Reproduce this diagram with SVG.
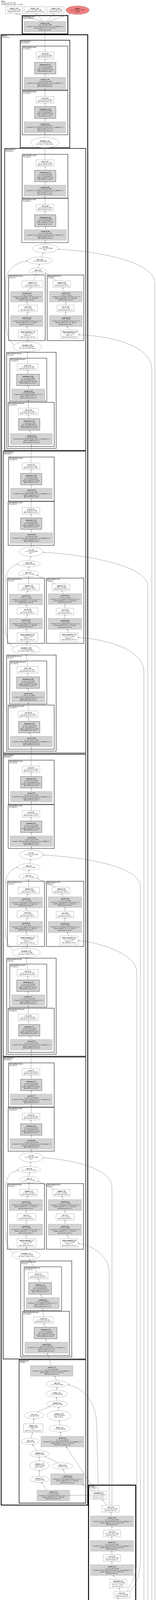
<svg xmlns="http://www.w3.org/2000/svg" width="400" height="4824" viewBox="0 0 400 4824">
<defs>
<marker id="a" viewBox="0 0 10 10" refX="10" refY="5" markerWidth="2.4" markerHeight="2.4" markerUnits="userSpaceOnUse" orient="auto"><path d="M0,0L10,5L0,10z" fill="#333"/></marker>
<style>
text{font-family:"Liberation Serif","DejaVu Serif",serif;font-size:3.4px;text-anchor:middle;fill:#000}
.n{font-weight:bold}
.w{fill:#fff;stroke:#888;stroke-width:.6}
.g{fill:#d3d3d3;stroke:#9a9a9a;stroke-width:.6}
.bn{fill:#d3d3d3;stroke:#a0a0a0;stroke-width:1.8}
.e{fill:#fff;stroke:#888;stroke-width:.6}
.in{fill:#98fb98;stroke:#888;stroke-width:.6}
.out{fill:#f08080;stroke:#888;stroke-width:.6}
.k1{fill:none;stroke:#000;stroke-width:2}
.k2{fill:none;stroke:#111;stroke-width:1.5}
.k3{fill:none;stroke:#222;stroke-width:1.1}
.k4{fill:none;stroke:#555;stroke-width:1.3}
.cl{text-anchor:start;font-size:3.2px}
#edges path{fill:none;stroke:#555;stroke-width:.55;marker-end:url(#a)}
</style>
</defs>
<rect width="400" height="4824" fill="#fff"/>
<g id="title"><text class="cl" x="3" y="4.5"><tspan class="n">SEUnet</tspan><tspan x="3" dy="4">164 tensors total (299.7 MB)</tspan><tspan x="3" dy="4">27597146 params (all trainable, 105.3 MB)</tspan></text></g>

<g id="clusters">
<rect class="k1" x="57" y="40" width="117" height="47"/><text class="cl" x="59" y="44.2"><tspan class="n">@segmentation_head</tspan><tspan x="59" dy="3.8">(SegmentationHead)</tspan></text>
<rect class="k1" x="3" y="89" width="222" height="3764"/><text class="cl" x="5" y="93.2"><tspan class="n">@decoder</tspan><tspan x="5" dy="3.8">(UNetDecoder)</tspan></text>
<rect class="k2" x="52" y="103" width="127" height="275"/><text class="cl" x="54" y="107.2"><tspan class="n">@decoder.blocks.4</tspan><tspan x="54" dy="3.8">(DecoderBlock)</tspan></text>
<rect class="k3" x="57" y="118" width="117" height="112"/><text class="cl" x="59" y="122.2"><tspan class="n">@decoder.blocks.4.conv2</tspan><tspan x="59" dy="3.8">(Conv2dReLU)</tspan></text>
<rect class="k3" x="57" y="232" width="117" height="113"/><text class="cl" x="59" y="236.2"><tspan class="n">@decoder.blocks.4.conv1</tspan><tspan x="59" dy="3.8">(Conv2dReLU)</tspan></text>

<rect class="k2" x="12" y="380" width="208" height="773"/><text class="cl" x="14" y="384.2"><tspan class="n">@decoder.blocks.3</tspan><tspan x="14" dy="3.8">(MDAMBlock)</tspan></text>
<rect class="k3" x="57" y="395" width="117" height="112"/><text class="cl" x="59" y="399.2"><tspan class="n">@decoder.blocks.3.conv2</tspan><tspan x="59" dy="3.8">(Conv2dReLU)</tspan></text>
<rect class="k4" x="56" y="508" width="119" height="113"/><text class="cl" x="58" y="512.2"><tspan class="n">@decoder.blocks.3.conv1</tspan><tspan x="58" dy="3.8">(Conv2dReLU)</tspan></text>
<rect class="k3" x="22" y="704" width="94" height="168"/><text class="cl" x="24" y="708.2"><tspan class="n">@decoder.blocks.3.SE_hi</tspan><tspan x="24" dy="3.8">(Sequential)</tspan></text>
<rect class="k3" x="121" y="704" width="94" height="168"/><text class="cl" x="123" y="708.2"><tspan class="n">@decoder.blocks.3.SE_li</tspan><tspan x="123" dy="3.8">(Sequential)</tspan></text>
<rect class="k3" x="17" y="902" width="127" height="246"/><text class="cl" x="19" y="906.2"><tspan class="n">@decoder.blocks.3.hl_conv</tspan><tspan x="19" dy="3.8">(Sequential)</tspan></text>
<rect class="k4" x="25" y="917" width="95" height="110"/><text class="cl" x="27" y="921.2"><tspan class="n">@decoder.blocks.3.hl_conv.1</tspan><tspan x="27" dy="3.8">(Conv2dReLU)</tspan></text>
<rect class="k3" x="21" y="1030" width="118" height="113"/><text class="cl" x="23" y="1034.2"><tspan class="n">@decoder.blocks.3.hl_conv.0</tspan><tspan x="23" dy="3.8">(Conv2dReLU)</tspan></text>

<rect class="k2" x="8" y="1155" width="212" height="773"/><text class="cl" x="10" y="1159.2"><tspan class="n">@decoder.blocks.2</tspan><tspan x="10" dy="3.8">(MDAMBlock)</tspan></text>
<rect class="k3" x="22" y="1170" width="117" height="113"/><text class="cl" x="24" y="1174.2"><tspan class="n">@decoder.blocks.2.conv2</tspan><tspan x="24" dy="3.8">(Conv2dReLU)</tspan></text>
<rect class="k3" x="21" y="1284" width="118" height="112"/><text class="cl" x="23" y="1288.2"><tspan class="n">@decoder.blocks.2.conv1</tspan><tspan x="23" dy="3.8">(Conv2dReLU)</tspan></text>
<rect class="k3" x="19" y="1480" width="95" height="167"/><text class="cl" x="21" y="1484.2"><tspan class="n">@decoder.blocks.2.SE_hi</tspan><tspan x="21" dy="3.8">(Sequential)</tspan></text>
<rect class="k3" x="119" y="1480" width="96" height="167"/><text class="cl" x="121" y="1484.2"><tspan class="n">@decoder.blocks.2.SE_li</tspan><tspan x="121" dy="3.8">(Sequential)</tspan></text>
<rect class="k3" x="17" y="1677" width="127" height="246"/><text class="cl" x="19" y="1681.2"><tspan class="n">@decoder.blocks.2.hl_conv</tspan><tspan x="19" dy="3.8">(Sequential)</tspan></text>
<rect class="k4" x="25" y="1692" width="95" height="110"/><text class="cl" x="27" y="1696.2"><tspan class="n">@decoder.blocks.2.hl_conv.1</tspan><tspan x="27" dy="3.8">(Conv2dReLU)</tspan></text>
<rect class="k3" x="21" y="1805" width="118" height="113"/><text class="cl" x="23" y="1809.2"><tspan class="n">@decoder.blocks.2.hl_conv.0</tspan><tspan x="23" dy="3.8">(Conv2dReLU)</tspan></text>

<rect class="k2" x="8" y="1931" width="212" height="773"/><text class="cl" x="10" y="1935.2"><tspan class="n">@decoder.blocks.1</tspan><tspan x="10" dy="3.8">(MDAMBlock)</tspan></text>
<rect class="k3" x="22" y="1946" width="117" height="113"/><text class="cl" x="24" y="1950.2"><tspan class="n">@decoder.blocks.1.conv2</tspan><tspan x="24" dy="3.8">(Conv2dReLU)</tspan></text>
<rect class="k3" x="21" y="2060" width="118" height="112"/><text class="cl" x="23" y="2064.2"><tspan class="n">@decoder.blocks.1.conv1</tspan><tspan x="23" dy="3.8">(Conv2dReLU)</tspan></text>
<rect class="k3" x="19" y="2256" width="95" height="167"/><text class="cl" x="21" y="2260.2"><tspan class="n">@decoder.blocks.1.SE_hi</tspan><tspan x="21" dy="3.8">(Sequential)</tspan></text>
<rect class="k3" x="119" y="2256" width="96" height="167"/><text class="cl" x="121" y="2260.2"><tspan class="n">@decoder.blocks.1.SE_li</tspan><tspan x="121" dy="3.8">(Sequential)</tspan></text>
<rect class="k3" x="17" y="2453" width="127" height="246"/><text class="cl" x="19" y="2457.2"><tspan class="n">@decoder.blocks.1.hl_conv</tspan><tspan x="19" dy="3.8">(Sequential)</tspan></text>
<rect class="k4" x="25" y="2468" width="95" height="110"/><text class="cl" x="27" y="2472.2"><tspan class="n">@decoder.blocks.1.hl_conv.1</tspan><tspan x="27" dy="3.8">(Conv2dReLU)</tspan></text>
<rect class="k3" x="21" y="2581" width="118" height="113"/><text class="cl" x="23" y="2585.2"><tspan class="n">@decoder.blocks.1.hl_conv.0</tspan><tspan x="23" dy="3.8">(Conv2dReLU)</tspan></text>

<rect class="k2" x="8" y="2706" width="212" height="773"/><text class="cl" x="10" y="2710.2"><tspan class="n">@decoder.blocks.0</tspan><tspan x="10" dy="3.8">(MDAMBlock)</tspan></text>
<rect class="k3" x="22" y="2721" width="117" height="113"/><text class="cl" x="24" y="2725.2"><tspan class="n">@decoder.blocks.0.conv2</tspan><tspan x="24" dy="3.8">(Conv2dReLU)</tspan></text>
<rect class="k3" x="21" y="2835" width="118" height="112"/><text class="cl" x="23" y="2839.2"><tspan class="n">@decoder.blocks.0.conv1</tspan><tspan x="23" dy="3.8">(Conv2dReLU)</tspan></text>
<rect class="k3" x="19" y="3030" width="95" height="168"/><text class="cl" x="21" y="3034.2"><tspan class="n">@decoder.blocks.0.SE_hi</tspan><tspan x="21" dy="3.8">(Sequential)</tspan></text>
<rect class="k3" x="119" y="3030" width="95" height="168"/><text class="cl" x="121" y="3034.2"><tspan class="n">@decoder.blocks.0.SE_li</tspan><tspan x="121" dy="3.8">(Sequential)</tspan></text>
<rect class="k3" x="53" y="3228" width="131" height="246"/><text class="cl" x="55" y="3232.2"><tspan class="n">@decoder.blocks.0.hl_conv</tspan><tspan x="55" dy="3.8">(Sequential)</tspan></text>
<rect class="k4" x="62" y="3243" width="96" height="112"/><text class="cl" x="64" y="3247.2"><tspan class="n">@decoder.blocks.0.hl_conv.1</tspan><tspan x="64" dy="3.8">(Conv2dReLU)</tspan></text>
<rect class="k3" x="58" y="3357" width="120" height="113"/><text class="cl" x="60" y="3361.2"><tspan class="n">@decoder.blocks.0.hl_conv.0</tspan><tspan x="60" dy="3.8">(Conv2dReLU)</tspan></text>

<rect class="k2" x="49" y="3481" width="171" height="367"/><text class="cl" x="51" y="3485.2"><tspan class="n">@decoder.center</tspan><tspan x="51" dy="3.8">(PAMBlock)</tspan></text>
<rect class="k1" x="227" y="3802" width="121" height="985" stroke="#333" style="stroke-width:2.4"/><text class="cl" x="229" y="3806.2"><tspan class="n">@encoder</tspan><tspan x="229" dy="3.8">(VGGEncoder)</tspan></text>
</g>

<g id="edges">
<path d="M110,55L40,35"/><path d="M112,55L92,35"/><path d="M120,55L138,35"/><path d="M125,55L180,35"/>
<path d="M115.5,133L115,81"/><path d="M116,160L115.5,151"/><path d="M115,198L116,189"/><path d="M115.5,247L115,227"/><path d="M116,273L115.5,264"/><path d="M115,312L116,303"/><path d="M115,352L115,340"/>
<path d="M115.5,409L115,378"/><path d="M116,436L115.5,426"/><path d="M115,474L116,465"/><path d="M115.5,523L115,502"/><path d="M116,550L115.5,540"/><path d="M116,588L116,580"/><path d="M116,625L116,615"/><path d="M106,658L112,647"/><path d="M98,686L101,676"/><path d="M85,719L93,702"/><path d="M145,719L116,699"/>
<path d="M68.5,746L80,736"/><path d="M71.5,781L68.5,773"/><path d="M68.5,808L71.5,798"/><path d="M71.5,845L68.5,836"/><path d="M70,875.5L71.5,867"/>
<path d="M165,746L160,736"/><path d="M168,781L169,773"/><path d="M169,808L168,798"/><path d="M178.5,845L172,836"/>
<path d="M36,882C19,872 15,845 15,815L15,725C15,690 40,672 70,668"/>
<path d="M71,931L70,900.5"/><path d="M72,958L71,948"/><path d="M72.5,996L72,987"/><path d="M72.5,1045L72.5,1024"/><path d="M75,1072L72.5,1062"/><path d="M80.5,1110L75,1101"/>
<path d="M79.5,1185L80.5,1138"/><path d="M80,1212L79.5,1202"/><path d="M80.5,1250L80,1241"/><path d="M79.5,1299L80.5,1277"/><path d="M80,1326L79.5,1316"/><path d="M80.5,1364L80,1355"/><path d="M80,1400L80.5,1391"/><path d="M76,1435L79,1424"/><path d="M73,1460L74,1451"/><path d="M74,1495L73,1476"/><path d="M142,1495L94,1472"/>
<path d="M66.5,1521L72,1512"/><path d="M70.5,1556L66.5,1548"/><path d="M66.5,1583L70.5,1573"/><path d="M70.5,1620L66.5,1610"/><path d="M67,1651L70.5,1642"/>
<path d="M163,1520L158,1512"/><path d="M166.5,1557L166.5,1547"/><path d="M166.5,1583L166.5,1574"/><path d="M177,1620L172,1611"/>
<path d="M34,1657C18,1647 13,1620 13,1590L13,1500C13,1466 25,1449 46,1444"/>
<path d="M71,1706L67,1675"/><path d="M72,1733L71,1723"/><path d="M72.5,1771L72,1762"/><path d="M72.5,1820L72.5,1798"/><path d="M75,1847L72.5,1837"/><path d="M80.5,1885L75,1876"/>
<path d="M79.5,1961L80.5,1912"/><path d="M80,1988L79.5,1978"/><path d="M80.5,2026L80,2017"/><path d="M79.5,2075L80.5,2053"/><path d="M80,2102L79.5,2092"/><path d="M80.5,2140L80,2131"/><path d="M80,2176L80.5,2167"/><path d="M76,2211L79,2200"/><path d="M73,2236L74,2227"/><path d="M74,2271L73,2252"/><path d="M142,2271L94,2248"/>
<path d="M66.5,2297L72,2288"/><path d="M70.5,2332L66.5,2324"/><path d="M66.5,2359L70.5,2349"/><path d="M70.5,2396L66.5,2386"/><path d="M67,2427L70.5,2418"/>
<path d="M163,2296L158,2288"/><path d="M166.5,2333L166.5,2323"/><path d="M166.5,2359L166.5,2350"/><path d="M177,2396L172,2387"/>
<path d="M34,2433C18,2423 13,2396 13,2366L13,2276C13,2242 25,2225 46,2220"/>
<path d="M71,2482L67,2451"/><path d="M72,2509L71,2499"/><path d="M72.5,2547L72,2538"/><path d="M72.5,2596L72.5,2574"/><path d="M75,2623L72.5,2613"/><path d="M80.5,2661L75,2652"/>
<path d="M79.5,2736L80.5,2688"/><path d="M80,2763L79.5,2753"/><path d="M80.5,2801L80,2792"/><path d="M79.5,2850L80.5,2828"/><path d="M80,2877L79.5,2867"/><path d="M80.5,2915L80,2906"/><path d="M80,2951L80.5,2942"/><path d="M77,2986L79,2975"/><path d="M75,3012L75,3002"/><path d="M74,3045L75,3028"/><path d="M140,3045L97,3024"/>
<path d="M66.5,3071L72,3062"/><path d="M68,3107L66.5,3099"/><path d="M66.5,3134L68,3124"/><path d="M68,3171L66.5,3162"/><path d="M67,3201L68,3193"/>
<path d="M163,3071L158,3062"/><path d="M167,3107L166.5,3099"/><path d="M166.5,3134L167,3124"/><path d="M177.5,3171L172,3162"/>
<path d="M34,3207C18,3197 13,3170 13,3140L13,3050C13,3016 25,3000 47,2996"/>
<path d="M95,3257L75,3224.5"/><path d="M103,3284L97.5,3274"/><path d="M109.5,3322L103,3313"/><path d="M111.5,3371L109.5,3350"/><path d="M117,3398L111.5,3388"/><path d="M119,3436L117,3427"/>
<path d="M132,3496L121,3464"/><path d="M146,3534.5L140,3523"/><path d="M145,3559L146,3551.5"/><path d="M146,3586L145,3577"/><path d="M150,3611L150,3602"/><path d="M95,3614.5L130,3600"/><path d="M86,3645L87,3632"/><path d="M153,3648L152,3637"/><path d="M157,3677L155,3666"/><path d="M80,3682L83,3667"/><path d="M95,3714L83,3698"/><path d="M101,3740L101,3730"/><path d="M150,3745.5L115,3728"/><path d="M101,3779L101,3764"/><path d="M166,3773L162,3761"/><path d="M120,3815L106,3795"/>
<path d="M232,3828L178,3828"/><path d="M240,3817L212,3801"/><path d="M245,3817L170,3704"/><path d="M252,3817L248,3650C248,3590 215,3553 175,3545"/>
<path d="M275,3854L262,3839"/><path d="M285,3881L284,3871"/><path d="M287,3917L287,3908"/><path d="M287,3944L287,3934"/><path d="M287,3980L287,3971"/><path d="M287,4006L287,3997"/><path d="M298,4043L290,4033"/><path d="M308,4074L305,4065"/><path d="M295,4101L305,4091"/><path d="M287,4137L287,4128"/><path d="M287,4164L287,4154"/><path d="M287,4200L287,4191"/><path d="M287,4227L287,4217"/><path d="M292,4263L288,4254"/><path d="M300,4294L296,4285"/><path d="M292,4320L300,4311"/><path d="M287,4356L287,4347"/><path d="M287,4382L287,4373"/><path d="M287,4418L287,4409"/><path d="M287,4444L287,4435"/><path d="M292,4480L288,4471"/><path d="M305,4511L298,4502"/><path d="M290,4537L305,4528"/><path d="M287,4573L287,4564"/><path d="M287,4599L287,4590"/><path d="M287,4635L287,4626"/><path d="M287,4666L287,4657"/><path d="M287,4692L287,4683"/><path d="M287,4728L287,4719"/><path d="M287,4754L287,4745"/><path d="M287,4790L287,4781"/>
<path d="M280,3854L280,3260C280,3215 240,3190 201,3183"/>
<path d="M287,3854L287,3040C287,2990 180,2968 111,2964"/>
<path d="M325,4074C340,4050 351,4030 351,3990L351,2490C351,2440 250,2412 201,2408"/>
<path d="M330,4078C350,4055 360,4030 360,3990L360,2270C360,2215 200,2193 111,2189"/>
<path d="M325,4299C355,4295 369,4280 369,4250L369,1720C369,1665 280,1637 201,1632"/>
<path d="M325,4305C365,4302 379,4285 379,4255L379,1500C379,1445 200,1418 111,1414"/>
<path d="M333,4516C375,4513 389,4495 389,4465L389,945C389,885 285,860 202,857"/>
<path d="M333,4522C385,4519 397,4500 397,4470L397,725C397,665 230,642 150,638"/>
</g>

<g id="identity_1_160"><rect class="w" x="14" y="17" width="44" height="18"/><text x="36" y="23"><tspan class="n">identity_1_160</tspan><tspan x="36" dy="4.2">(1, 21, 256, 256) 5.2 MB</tspan><tspan x="36" dy="4.2">@segmentation_head.1</tspan></text></g>
<g id="identity_2_161"><rect class="w" x="62" y="17" width="54" height="18"/><text x="89" y="23"><tspan class="n">identity_2_161</tspan><tspan x="89" dy="4.2">(1, 21, 256, 256) 5.2 MB</tspan><tspan x="89" dy="4.2">@segmentation_head.2.activation</tspan></text></g>
<g id="identity_3_162"><rect class="w" x="121" y="17" width="43" height="18"/><text x="142.5" y="23"><tspan class="n">identity_3_162</tspan><tspan x="142.5" dy="4.2">(1, 21, 256, 256) 5.2 MB</tspan><tspan x="142.5" dy="4.2">@segmentation_head.2</tspan></text></g>
<g id="output_1"><ellipse class="out" cx="199" cy="26" rx="30" ry="11"/><text x="199" y="23"><tspan class="n">output_1</tspan><tspan x="199" dy="4.2">(1, 21, 256, 256) 5.2 MB</tspan><tspan x="199" dy="4.2">@output</tspan></text></g>
<g id="conv2d_52_159"><rect class="g" x="62" y="55" width="106" height="26"/><text x="115" y="60.8"><tspan class="n">conv2d_52_159</tspan><tspan x="115" dy="4.2">(1, 21, 256, 256) 5.2 MB</tspan><tspan x="115" dy="4.2">in_channels=16, out_channels=21, kernel_size=(3, 3), padding=(1, 1)</tspan><tspan x="115" dy="4.2">params: weight (21, 16, 3, 3) · bias (21,)</tspan><tspan x="115" dy="4.2">@segmentation_head.0</tspan></text></g>

<g id="relu_39_158"><rect class="w" x="93" y="133" width="45" height="18"/><text x="115.5" y="139"><tspan class="n">relu_39_158</tspan><tspan x="115.5" dy="4.2">(1, 16, 256, 256) 4.0 MB</tspan><tspan x="115.5" dy="4.2">@decoder.blocks.4.conv2.2</tspan></text></g>
<g id="batchnorm_18_157"><rect class="bn" x="89" y="160" width="54" height="29"/><text x="116" y="167.3"><tspan class="n">batchnorm_18_157</tspan><tspan x="116" dy="4.2">(1, 16, 256, 256) 4.0 MB</tspan><tspan x="116" dy="4.2">eps=1e-05, momentum=0.1</tspan><tspan x="116" dy="4.2">params: weight (16,) · bias (16,)</tspan><tspan x="116" dy="4.2">@decoder.blocks.4.conv2.1</tspan></text></g>
<g id="conv2d_51_156"><rect class="g" x="62" y="198" width="106" height="29"/><text x="115" y="205.3"><tspan class="n">conv2d_51_156</tspan><tspan x="115" dy="4.2">(1, 16, 256, 256) 4.0 MB</tspan><tspan x="115" dy="4.2">in_channels=16, out_channels=16, kernel_size=(3, 3), padding=(1, 1)</tspan><tspan x="115" dy="4.2">params: weight (16, 16, 3, 3)</tspan><tspan x="115" dy="4.2">@decoder.blocks.4.conv2.0</tspan></text></g>
<g id="relu_38_155"><rect class="w" x="93" y="247" width="45" height="17"/><text x="115.5" y="252.5"><tspan class="n">relu_38_155</tspan><tspan x="115.5" dy="4.2">(1, 16, 256, 256) 4.0 MB</tspan><tspan x="115.5" dy="4.2">@decoder.blocks.4.conv1.2</tspan></text></g>
<g id="batchnorm_17_154"><rect class="bn" x="89" y="273" width="54" height="30"/><text x="116" y="280.8"><tspan class="n">batchnorm_17_154</tspan><tspan x="116" dy="4.2">(1, 16, 256, 256) 4.0 MB</tspan><tspan x="116" dy="4.2">eps=1e-05, momentum=0.1</tspan><tspan x="116" dy="4.2">params: weight (16,) · bias (16,)</tspan><tspan x="116" dy="4.2">@decoder.blocks.4.conv1.1</tspan></text></g>
<g id="conv2d_50_153"><rect class="g" x="62" y="312" width="106" height="28"/><text x="115" y="318.8"><tspan class="n">conv2d_50_153</tspan><tspan x="115" dy="4.2">(1, 16, 256, 256) 4.0 MB</tspan><tspan x="115" dy="4.2">in_channels=32, out_channels=16, kernel_size=(3, 3), padding=(1, 1)</tspan><tspan x="115" dy="4.2">params: weight (16, 32, 3, 3)</tspan><tspan x="115" dy="4.2">@decoder.blocks.4.conv1.0</tspan></text></g>
<g id="interpolate_5_152"><ellipse class="e" cx="115" cy="365" rx="36" ry="13"/><text x="115" y="362"><tspan class="n">interpolate_5_152</tspan><tspan x="115" dy="4.2">(1, 32, 256, 256) 8.0 MB</tspan><tspan x="115" dy="4.2">scale_factor=2.0, mode=nearest</tspan></text></g>

<g id="relu_37_151"><rect class="w" x="93" y="409" width="45" height="17"/><text x="115.5" y="414.5"><tspan class="n">relu_37_151</tspan><tspan x="115.5" dy="4.2">(1, 32, 128, 128) 2.0 MB</tspan><tspan x="115.5" dy="4.2">@decoder.blocks.3.conv2.2</tspan></text></g>
<g id="batchnorm_16_150"><rect class="bn" x="89" y="436" width="54" height="29"/><text x="116" y="443.3"><tspan class="n">batchnorm_16_150</tspan><tspan x="116" dy="4.2">(1, 32, 128, 128) 2.0 MB</tspan><tspan x="116" dy="4.2">eps=1e-05, momentum=0.1</tspan><tspan x="116" dy="4.2">params: weight (32,) · bias (32,)</tspan><tspan x="116" dy="4.2">@decoder.blocks.3.conv2.1</tspan></text></g>
<g id="conv2d_49_149"><rect class="g" x="62" y="474" width="106" height="28"/><text x="115" y="480.8"><tspan class="n">conv2d_49_149</tspan><tspan x="115" dy="4.2">(1, 32, 128, 128) 2.0 MB</tspan><tspan x="115" dy="4.2">in_channels=32, out_channels=32, kernel_size=(3, 3), padding=(1, 1)</tspan><tspan x="115" dy="4.2">params: weight (32, 32, 3, 3)</tspan><tspan x="115" dy="4.2">@decoder.blocks.3.conv2.0</tspan></text></g>
<g id="relu_36_148"><rect class="w" x="93" y="523" width="45" height="17"/><text x="115.5" y="528.5"><tspan class="n">relu_36_148</tspan><tspan x="115.5" dy="4.2">(1, 32, 128, 128) 2.0 MB</tspan><tspan x="115.5" dy="4.2">@decoder.blocks.3.conv1.2</tspan></text></g>
<g id="batchnorm_15_147"><rect class="bn" x="89" y="550" width="54" height="30"/><text x="116" y="557.8"><tspan class="n">batchnorm_15_147</tspan><tspan x="116" dy="4.2">(1, 32, 128, 128) 2.0 MB</tspan><tspan x="116" dy="4.2">eps=1e-05, momentum=0.1</tspan><tspan x="116" dy="4.2">params: weight (32,) · bias (32,)</tspan><tspan x="116" dy="4.2">@decoder.blocks.3.conv1.1</tspan></text></g>
<g id="conv2d_48_146"><rect class="g" x="62" y="588" width="108" height="27"/><text x="116" y="594.3"><tspan class="n">conv2d_48_146</tspan><tspan x="116" dy="4.2">(1, 32, 128, 128) 2.0 MB</tspan><tspan x="116" dy="4.2">in_channels=256, out_channels=32, kernel_size=(3, 3), padding=(1, 1)</tspan><tspan x="116" dy="4.2">params: weight (32, 256, 3, 3)</tspan><tspan x="116" dy="4.2">@decoder.blocks.3.conv1.0</tspan></text></g>
<g id="cat_4_145"><ellipse class="e" cx="116" cy="636" rx="33" ry="11"/><text x="116" y="633"><tspan class="n">cat_4_145</tspan><tspan x="116" dy="4.2">(1, 256, 128, 128) 16.0 MB</tspan><tspan x="116" dy="4.2">dim=1</tspan></text></g>
<g id="mul_4_144"><ellipse class="e" cx="102" cy="667" rx="32" ry="9"/><text x="102" y="666.1"><tspan class="n">mul_4_144</tspan><tspan x="102" dy="4.2">(1, 128, 128, 128) 8.0 MB</tspan></text></g>
<g id="add_5_143"><ellipse class="e" cx="97" cy="694" rx="22" ry="8"/><text x="97" y="693.1"><tspan class="n">add_5_143</tspan><tspan x="97" dy="4.2">(1, 128, 1, 1) 512 B</tspan></text></g>
<g id="sigmoid_7_137"><rect class="w" x="56" y="719" width="54" height="17"/><text x="83" y="724.5"><tspan class="n">sigmoid_7_137</tspan><tspan x="83" dy="4.2">(1, 128, 1, 1) 512 B</tspan><tspan x="83" dy="4.2">@decoder.blocks.3.SE_hi.4</tspan></text></g>
<g id="conv2d_45_136"><rect class="g" x="27" y="746" width="83" height="27"/><text x="68.5" y="752.3"><tspan class="n">conv2d_45_136</tspan><tspan x="68.5" dy="4.2">(1, 128, 1, 1) 512 B</tspan><tspan x="68.5" dy="4.2">in_channels=8, out_channels=128, kernel_size=(1, 1)</tspan><tspan x="68.5" dy="4.2">params: weight (128, 8, 1, 1) · bias (128,)</tspan><tspan x="68.5" dy="4.2">@decoder.blocks.3.SE_hi.3</tspan></text></g>
<g id="relu_34_135"><rect class="w" x="47" y="781" width="49" height="17"/><text x="71.5" y="786.5"><tspan class="n">relu_34_135</tspan><tspan x="71.5" dy="4.2">(1, 8, 1, 1) 32 B</tspan><tspan x="71.5" dy="4.2">@decoder.blocks.3.SE_hi.2</tspan></text></g>
<g id="conv2d_44_134"><rect class="g" x="27" y="808" width="83" height="28"/><text x="68.5" y="814.8"><tspan class="n">conv2d_44_134</tspan><tspan x="68.5" dy="4.2">(1, 8, 1, 1) 32 B</tspan><tspan x="68.5" dy="4.2">in_channels=128, out_channels=8, kernel_size=(1, 1)</tspan><tspan x="68.5" dy="4.2">params: weight (8, 128, 1, 1) · bias (8,)</tspan><tspan x="68.5" dy="4.2">@decoder.blocks.3.SE_hi.1</tspan></text></g>
<g id="adaptiveavgpool2d_7_133"><rect class="w" x="47" y="845" width="49" height="22"/><text x="71.5" y="850.9"><tspan class="n">adaptiveavgpool2d_7_133</tspan><tspan x="71.5" dy="4.2">(1, 128, 1, 1) 512 B</tspan><tspan x="71.5" dy="4.2">output_size=1</tspan><tspan x="71.5" dy="4.2">@decoder.blocks.3.SE_hi.0</tspan></text></g>
<g id="sigmoid_8_142"><rect class="w" x="136" y="719" width="45" height="17"/><text x="158.5" y="724.5"><tspan class="n">sigmoid_8_142</tspan><tspan x="158.5" dy="4.2">(1, 128, 1, 1) 512 B</tspan><tspan x="158.5" dy="4.2">@decoder.blocks.3.SE_li.4</tspan></text></g>
<g id="conv2d_47_141"><rect class="g" x="127" y="746" width="84" height="27"/><text x="169" y="752.3"><tspan class="n">conv2d_47_141</tspan><tspan x="169" dy="4.2">(1, 128, 1, 1) 512 B</tspan><tspan x="169" dy="4.2">in_channels=8, out_channels=128, kernel_size=(1, 1)</tspan><tspan x="169" dy="4.2">params: weight (128, 8, 1, 1) · bias (128,)</tspan><tspan x="169" dy="4.2">@decoder.blocks.3.SE_li.3</tspan></text></g>
<g id="relu_35_140"><rect class="w" x="146" y="781" width="44" height="17"/><text x="168" y="786.5"><tspan class="n">relu_35_140</tspan><tspan x="168" dy="4.2">(1, 8, 1, 1) 32 B</tspan><tspan x="168" dy="4.2">@decoder.blocks.3.SE_li.2</tspan></text></g>
<g id="conv2d_46_139"><rect class="g" x="127" y="808" width="84" height="28"/><text x="169" y="814.8"><tspan class="n">conv2d_46_139</tspan><tspan x="169" dy="4.2">(1, 8, 1, 1) 32 B</tspan><tspan x="169" dy="4.2">in_channels=128, out_channels=8, kernel_size=(1, 1)</tspan><tspan x="169" dy="4.2">params: weight (8, 128, 1, 1) · bias (8,)</tspan><tspan x="169" dy="4.2">@decoder.blocks.3.SE_li.1</tspan></text></g>
<g id="adaptiveavgpool2d_8_138"><rect class="w" x="156" y="845" width="45" height="22"/><text x="178.5" y="850.9"><tspan class="n">adaptiveavgpool2d_8_138</tspan><tspan x="178.5" dy="4.2">(1, 128, 1, 1) 512 B</tspan><tspan x="178.5" dy="4.2">output_size=1</tspan><tspan x="178.5" dy="4.2">@decoder.blocks.3.SE_li.0</tspan></text></g>
<g id="interpolate_4_132"><ellipse class="e" cx="70" cy="888" rx="37" ry="12.5"/><text x="70" y="885"><tspan class="n">interpolate_4_132</tspan><tspan x="70" dy="4.2">(1, 128, 128, 128) 8.0 MB</tspan><tspan x="70" dy="4.2">scale_factor=2.0, mode=nearest</tspan></text></g>
<g id="relu_33_131"><rect class="w" x="44" y="931" width="54" height="17"/><text x="71" y="936.5"><tspan class="n">relu_33_131</tspan><tspan x="71" dy="4.2">(1, 128, 64, 64) 2.0 MB</tspan><tspan x="71" dy="4.2">@decoder.blocks.3.hl_conv.1.2</tspan></text></g>
<g id="batchnorm_14_130"><rect class="bn" x="43" y="958" width="58" height="29"/><text x="72" y="965.3"><tspan class="n">batchnorm_14_130</tspan><tspan x="72" dy="4.2">(1, 128, 64, 64) 2.0 MB</tspan><tspan x="72" dy="4.2">eps=1e-05, momentum=0.1</tspan><tspan x="72" dy="4.2">params: weight (128,) · bias (128,)</tspan><tspan x="72" dy="4.2">@decoder.blocks.3.hl_conv.1.1</tspan></text></g>
<g id="conv2d_43_129"><rect class="g" x="30" y="996" width="85" height="28"/><text x="72.5" y="1002.8"><tspan class="n">conv2d_43_129</tspan><tspan x="72.5" dy="4.2">(1, 128, 64, 64) 2.0 MB</tspan><tspan x="72.5" dy="4.2">in_channels=64, out_channels=128, kernel_size=(1, 1)</tspan><tspan x="72.5" dy="4.2">params: weight (128, 64, 1, 1)</tspan><tspan x="72.5" dy="4.2">@decoder.blocks.3.hl_conv.1.0</tspan></text></g>
<g id="relu_32_128"><rect class="w" x="47" y="1045" width="51" height="17"/><text x="72.5" y="1050.5"><tspan class="n">relu_32_128</tspan><tspan x="72.5" dy="4.2">(1, 64, 64, 64) 1.0 MB</tspan><tspan x="72.5" dy="4.2">@decoder.blocks.3.hl_conv.0.2</tspan></text></g>
<g id="batchnorm_13_127"><rect class="bn" x="48" y="1072" width="54" height="29"/><text x="75" y="1079.3"><tspan class="n">batchnorm_13_127</tspan><tspan x="75" dy="4.2">(1, 64, 64, 64) 1.0 MB</tspan><tspan x="75" dy="4.2">eps=1e-05, momentum=0.1</tspan><tspan x="75" dy="4.2">params: weight (64,) · bias (64,)</tspan><tspan x="75" dy="4.2">@decoder.blocks.3.hl_conv.0.1</tspan></text></g>
<g id="conv2d_42_126"><rect class="g" x="27" y="1110" width="107" height="28"/><text x="80.5" y="1116.8"><tspan class="n">conv2d_42_126</tspan><tspan x="80.5" dy="4.2">(1, 64, 64, 64) 1.0 MB</tspan><tspan x="80.5" dy="4.2">in_channels=64, out_channels=64, kernel_size=(3, 3), padding=(1, 1)</tspan><tspan x="80.5" dy="4.2">params: weight (64, 64, 3, 3)</tspan><tspan x="80.5" dy="4.2">@decoder.blocks.3.hl_conv.0.0</tspan></text></g>

<g id="relu_31_125"><rect class="w" x="57" y="1185" width="45" height="17"/><text x="79.5" y="1190.5"><tspan class="n">relu_31_125</tspan><tspan x="79.5" dy="4.2">(1, 64, 64, 64) 1.0 MB</tspan><tspan x="79.5" dy="4.2">@decoder.blocks.2.conv2.2</tspan></text></g>
<g id="batchnorm_12_124"><rect class="bn" x="53" y="1212" width="54" height="29"/><text x="80" y="1219.3"><tspan class="n">batchnorm_12_124</tspan><tspan x="80" dy="4.2">(1, 64, 64, 64) 1.0 MB</tspan><tspan x="80" dy="4.2">eps=1e-05, momentum=0.1</tspan><tspan x="80" dy="4.2">params: weight (64,) · bias (64,)</tspan><tspan x="80" dy="4.2">@decoder.blocks.2.conv2.1</tspan></text></g>
<g id="conv2d_41_123"><rect class="g" x="27" y="1250" width="107" height="27"/><text x="80.5" y="1256.3"><tspan class="n">conv2d_41_123</tspan><tspan x="80.5" dy="4.2">(1, 64, 64, 64) 1.0 MB</tspan><tspan x="80.5" dy="4.2">in_channels=64, out_channels=64, kernel_size=(3, 3), padding=(1, 1)</tspan><tspan x="80.5" dy="4.2">params: weight (64, 64, 3, 3)</tspan><tspan x="80.5" dy="4.2">@decoder.blocks.2.conv2.0</tspan></text></g>
<g id="relu_30_122"><rect class="w" x="57" y="1299" width="45" height="17"/><text x="79.5" y="1304.5"><tspan class="n">relu_30_122</tspan><tspan x="79.5" dy="4.2">(1, 64, 64, 64) 1.0 MB</tspan><tspan x="79.5" dy="4.2">@decoder.blocks.2.conv1.2</tspan></text></g>
<g id="batchnorm_11_121"><rect class="bn" x="53" y="1326" width="54" height="29"/><text x="80" y="1333.3"><tspan class="n">batchnorm_11_121</tspan><tspan x="80" dy="4.2">(1, 64, 64, 64) 1.0 MB</tspan><tspan x="80" dy="4.2">eps=1e-05, momentum=0.1</tspan><tspan x="80" dy="4.2">params: weight (64,) · bias (64,)</tspan><tspan x="80" dy="4.2">@decoder.blocks.2.conv1.1</tspan></text></g>
<g id="conv2d_40_120"><rect class="g" x="26" y="1364" width="109" height="27"/><text x="80.5" y="1370.3"><tspan class="n">conv2d_40_120</tspan><tspan x="80.5" dy="4.2">(1, 64, 64, 64) 1.0 MB</tspan><tspan x="80.5" dy="4.2">in_channels=512, out_channels=64, kernel_size=(3, 3), padding=(1, 1)</tspan><tspan x="80.5" dy="4.2">params: weight (64, 512, 3, 3)</tspan><tspan x="80.5" dy="4.2">@decoder.blocks.2.conv1.0</tspan></text></g>
<g id="cat_3_119"><ellipse class="e" cx="80" cy="1412" rx="30" ry="12"/><text x="80" y="1409"><tspan class="n">cat_3_119</tspan><tspan x="80" dy="4.2">(1, 512, 64, 64) 8.0 MB</tspan><tspan x="80" dy="4.2">dim=1</tspan></text></g>
<g id="mul_3_118"><ellipse class="e" cx="74" cy="1443" rx="29" ry="8"/><text x="74" y="1442.1"><tspan class="n">mul_3_118</tspan><tspan x="74" dy="4.2">(1, 256, 64, 64) 4.0 MB</tspan></text></g>
<g id="add_4_117"><ellipse class="e" cx="73" cy="1468" rx="25" ry="8"/><text x="73" y="1467.1"><tspan class="n">add_4_117</tspan><tspan x="73" dy="4.2">(1, 256, 1, 1) 1.0 KB</tspan></text></g>
<g id="sigmoid_5_111"><rect class="w" x="47" y="1495" width="54" height="17"/><text x="74" y="1500.5"><tspan class="n">sigmoid_5_111</tspan><tspan x="74" dy="4.2">(1, 256, 1, 1) 1.0 KB</tspan><tspan x="74" dy="4.2">@decoder.blocks.2.SE_hi.4</tspan></text></g>
<g id="conv2d_37_110"><rect class="g" x="24" y="1521" width="85" height="27"/><text x="66.5" y="1527.3"><tspan class="n">conv2d_37_110</tspan><tspan x="66.5" dy="4.2">(1, 256, 1, 1) 1.0 KB</tspan><tspan x="66.5" dy="4.2">in_channels=16, out_channels=256, kernel_size=(1, 1)</tspan><tspan x="66.5" dy="4.2">params: weight (256, 16, 1, 1) · bias (256,)</tspan><tspan x="66.5" dy="4.2">@decoder.blocks.2.SE_hi.3</tspan></text></g>
<g id="relu_28_109"><rect class="w" x="44" y="1556" width="53" height="17"/><text x="70.5" y="1561.5"><tspan class="n">relu_28_109</tspan><tspan x="70.5" dy="4.2">(1, 16, 1, 1) 64 B</tspan><tspan x="70.5" dy="4.2">@decoder.blocks.2.SE_hi.2</tspan></text></g>
<g id="conv2d_36_108"><rect class="g" x="24" y="1583" width="85" height="27"/><text x="66.5" y="1589.3"><tspan class="n">conv2d_36_108</tspan><tspan x="66.5" dy="4.2">(1, 16, 1, 1) 64 B</tspan><tspan x="66.5" dy="4.2">in_channels=256, out_channels=16, kernel_size=(1, 1)</tspan><tspan x="66.5" dy="4.2">params: weight (16, 256, 1, 1) · bias (16,)</tspan><tspan x="66.5" dy="4.2">@decoder.blocks.2.SE_hi.1</tspan></text></g>
<g id="adaptiveavgpool2d_5_107"><rect class="w" x="44" y="1620" width="53" height="22"/><text x="70.5" y="1625.9"><tspan class="n">adaptiveavgpool2d_5_107</tspan><tspan x="70.5" dy="4.2">(1, 256, 1, 1) 1.0 KB</tspan><tspan x="70.5" dy="4.2">output_size=1</tspan><tspan x="70.5" dy="4.2">@decoder.blocks.2.SE_hi.0</tspan></text></g>
<g id="sigmoid_6_116"><rect class="w" x="134" y="1495" width="45" height="17"/><text x="156.5" y="1500.5"><tspan class="n">sigmoid_6_116</tspan><tspan x="156.5" dy="4.2">(1, 256, 1, 1) 1.0 KB</tspan><tspan x="156.5" dy="4.2">@decoder.blocks.2.SE_li.4</tspan></text></g>
<g id="conv2d_39_115"><rect class="g" x="124" y="1520" width="85" height="27"/><text x="166.5" y="1526.3"><tspan class="n">conv2d_39_115</tspan><tspan x="166.5" dy="4.2">(1, 256, 1, 1) 1.0 KB</tspan><tspan x="166.5" dy="4.2">in_channels=16, out_channels=256, kernel_size=(1, 1)</tspan><tspan x="166.5" dy="4.2">params: weight (256, 16, 1, 1) · bias (256,)</tspan><tspan x="166.5" dy="4.2">@decoder.blocks.2.SE_li.3</tspan></text></g>
<g id="relu_29_114"><rect class="w" x="144" y="1557" width="45" height="17"/><text x="166.5" y="1562.5"><tspan class="n">relu_29_114</tspan><tspan x="166.5" dy="4.2">(1, 16, 1, 1) 64 B</tspan><tspan x="166.5" dy="4.2">@decoder.blocks.2.SE_li.2</tspan></text></g>
<g id="conv2d_38_113"><rect class="g" x="124" y="1583" width="85" height="28"/><text x="166.5" y="1589.8"><tspan class="n">conv2d_38_113</tspan><tspan x="166.5" dy="4.2">(1, 16, 1, 1) 64 B</tspan><tspan x="166.5" dy="4.2">in_channels=256, out_channels=16, kernel_size=(1, 1)</tspan><tspan x="166.5" dy="4.2">params: weight (16, 256, 1, 1) · bias (16,)</tspan><tspan x="166.5" dy="4.2">@decoder.blocks.2.SE_li.1</tspan></text></g>
<g id="adaptiveavgpool2d_6_112"><rect class="w" x="154" y="1620" width="46" height="23"/><text x="177" y="1626.4"><tspan class="n">adaptiveavgpool2d_6_112</tspan><tspan x="177" dy="4.2">(1, 256, 1, 1) 1.0 KB</tspan><tspan x="177" dy="4.2">output_size=1</tspan><tspan x="177" dy="4.2">@decoder.blocks.2.SE_li.0</tspan></text></g>
<g id="interpolate_3_106"><ellipse class="e" cx="67" cy="1663" rx="36" ry="12"/><text x="67" y="1660"><tspan class="n">interpolate_3_106</tspan><tspan x="67" dy="4.2">(1, 256, 64, 64) 4.0 MB</tspan><tspan x="67" dy="4.2">scale_factor=2.0, mode=nearest</tspan></text></g>
<g id="relu_27_105"><rect class="w" x="44" y="1706" width="54" height="17"/><text x="71" y="1711.5"><tspan class="n">relu_27_105</tspan><tspan x="71" dy="4.2">(1, 256, 32, 32) 1.0 MB</tspan><tspan x="71" dy="4.2">@decoder.blocks.2.hl_conv.1.2</tspan></text></g>
<g id="batchnorm_10_104"><rect class="bn" x="43" y="1733" width="58" height="29"/><text x="72" y="1740.3"><tspan class="n">batchnorm_10_104</tspan><tspan x="72" dy="4.2">(1, 256, 32, 32) 1.0 MB</tspan><tspan x="72" dy="4.2">eps=1e-05, momentum=0.1</tspan><tspan x="72" dy="4.2">params: weight (256,) · bias (256,)</tspan><tspan x="72" dy="4.2">@decoder.blocks.2.hl_conv.1.1</tspan></text></g>
<g id="conv2d_35_103"><rect class="g" x="30" y="1771" width="85" height="27"/><text x="72.5" y="1777.3"><tspan class="n">conv2d_35_103</tspan><tspan x="72.5" dy="4.2">(1, 256, 32, 32) 1.0 MB</tspan><tspan x="72.5" dy="4.2">in_channels=128, out_channels=256, kernel_size=(1, 1)</tspan><tspan x="72.5" dy="4.2">params: weight (256, 128, 1, 1)</tspan><tspan x="72.5" dy="4.2">@decoder.blocks.2.hl_conv.1.0</tspan></text></g>
<g id="relu_26_102"><rect class="w" x="47" y="1820" width="51" height="17"/><text x="72.5" y="1825.5"><tspan class="n">relu_26_102</tspan><tspan x="72.5" dy="4.2">(1, 128, 32, 32) 512.0 KB</tspan><tspan x="72.5" dy="4.2">@decoder.blocks.2.hl_conv.0.2</tspan></text></g>
<g id="batchnorm_9_101"><rect class="bn" x="48" y="1847" width="54" height="29"/><text x="75" y="1854.3"><tspan class="n">batchnorm_9_101</tspan><tspan x="75" dy="4.2">(1, 128, 32, 32) 512.0 KB</tspan><tspan x="75" dy="4.2">eps=1e-05, momentum=0.1</tspan><tspan x="75" dy="4.2">params: weight (128,) · bias (128,)</tspan><tspan x="75" dy="4.2">@decoder.blocks.2.hl_conv.0.1</tspan></text></g>
<g id="conv2d_34_100"><rect class="g" x="27" y="1885" width="107" height="27"/><text x="80.5" y="1891.3"><tspan class="n">conv2d_34_100</tspan><tspan x="80.5" dy="4.2">(1, 128, 32, 32) 512.0 KB</tspan><tspan x="80.5" dy="4.2">in_channels=128, out_channels=128, kernel_size=(3, 3), padding=(1, 1)</tspan><tspan x="80.5" dy="4.2">params: weight (128, 128, 3, 3)</tspan><tspan x="80.5" dy="4.2">@decoder.blocks.2.hl_conv.0.0</tspan></text></g>

<g id="relu_25_99"><rect class="w" x="57" y="1961" width="45" height="17"/><text x="79.5" y="1966.5"><tspan class="n">relu_25_99</tspan><tspan x="79.5" dy="4.2">(1, 128, 32, 32) 512.0 KB</tspan><tspan x="79.5" dy="4.2">@decoder.blocks.1.conv2.2</tspan></text></g>
<g id="batchnorm_8_98"><rect class="bn" x="53" y="1988" width="54" height="29"/><text x="80" y="1995.3"><tspan class="n">batchnorm_8_98</tspan><tspan x="80" dy="4.2">(1, 128, 32, 32) 512.0 KB</tspan><tspan x="80" dy="4.2">eps=1e-05, momentum=0.1</tspan><tspan x="80" dy="4.2">params: weight (128,) · bias (128,)</tspan><tspan x="80" dy="4.2">@decoder.blocks.1.conv2.1</tspan></text></g>
<g id="conv2d_33_97"><rect class="g" x="27" y="2026" width="107" height="27"/><text x="80.5" y="2032.3"><tspan class="n">conv2d_33_97</tspan><tspan x="80.5" dy="4.2">(1, 128, 32, 32) 512.0 KB</tspan><tspan x="80.5" dy="4.2">in_channels=128, out_channels=128, kernel_size=(3, 3), padding=(1, 1)</tspan><tspan x="80.5" dy="4.2">params: weight (128, 128, 3, 3)</tspan><tspan x="80.5" dy="4.2">@decoder.blocks.1.conv2.0</tspan></text></g>
<g id="relu_24_96"><rect class="w" x="57" y="2075" width="45" height="17"/><text x="79.5" y="2080.5"><tspan class="n">relu_24_96</tspan><tspan x="79.5" dy="4.2">(1, 128, 32, 32) 512.0 KB</tspan><tspan x="79.5" dy="4.2">@decoder.blocks.1.conv1.2</tspan></text></g>
<g id="batchnorm_7_95"><rect class="bn" x="53" y="2102" width="54" height="29"/><text x="80" y="2109.3"><tspan class="n">batchnorm_7_95</tspan><tspan x="80" dy="4.2">(1, 128, 32, 32) 512.0 KB</tspan><tspan x="80" dy="4.2">eps=1e-05, momentum=0.1</tspan><tspan x="80" dy="4.2">params: weight (128,) · bias (128,)</tspan><tspan x="80" dy="4.2">@decoder.blocks.1.conv1.1</tspan></text></g>
<g id="conv2d_32_94"><rect class="g" x="26" y="2140" width="109" height="27"/><text x="80.5" y="2146.3"><tspan class="n">conv2d_32_94</tspan><tspan x="80.5" dy="4.2">(1, 128, 32, 32) 512.0 KB</tspan><tspan x="80.5" dy="4.2">in_channels=1024, out_channels=128, kernel_size=(3, 3), padding=(1, 1)</tspan><tspan x="80.5" dy="4.2">params: weight (128, 1024, 3, 3)</tspan><tspan x="80.5" dy="4.2">@decoder.blocks.1.conv1.0</tspan></text></g>
<g id="cat_2_93"><ellipse class="e" cx="80" cy="2188" rx="30" ry="12"/><text x="80" y="2185"><tspan class="n">cat_2_93</tspan><tspan x="80" dy="4.2">(1, 1024, 32, 32) 4.0 MB</tspan><tspan x="80" dy="4.2">dim=1</tspan></text></g>
<g id="mul_2_92"><ellipse class="e" cx="74" cy="2219" rx="29" ry="8"/><text x="74" y="2218.1"><tspan class="n">mul_2_92</tspan><tspan x="74" dy="4.2">(1, 512, 32, 32) 2.0 MB</tspan></text></g>
<g id="add_3_91"><ellipse class="e" cx="73" cy="2244" rx="25" ry="8"/><text x="73" y="2243.1"><tspan class="n">add_3_91</tspan><tspan x="73" dy="4.2">(1, 512, 1, 1) 2.0 KB</tspan></text></g>
<g id="sigmoid_3_85"><rect class="w" x="47" y="2271" width="54" height="17"/><text x="74" y="2276.5"><tspan class="n">sigmoid_3_85</tspan><tspan x="74" dy="4.2">(1, 512, 1, 1) 2.0 KB</tspan><tspan x="74" dy="4.2">@decoder.blocks.1.SE_hi.4</tspan></text></g>
<g id="conv2d_29_84"><rect class="g" x="24" y="2297" width="85" height="27"/><text x="66.5" y="2303.3"><tspan class="n">conv2d_29_84</tspan><tspan x="66.5" dy="4.2">(1, 512, 1, 1) 2.0 KB</tspan><tspan x="66.5" dy="4.2">in_channels=32, out_channels=512, kernel_size=(1, 1)</tspan><tspan x="66.5" dy="4.2">params: weight (512, 32, 1, 1) · bias (512,)</tspan><tspan x="66.5" dy="4.2">@decoder.blocks.1.SE_hi.3</tspan></text></g>
<g id="relu_22_83"><rect class="w" x="44" y="2332" width="53" height="17"/><text x="70.5" y="2337.5"><tspan class="n">relu_22_83</tspan><tspan x="70.5" dy="4.2">(1, 32, 1, 1) 128 B</tspan><tspan x="70.5" dy="4.2">@decoder.blocks.1.SE_hi.2</tspan></text></g>
<g id="conv2d_28_82"><rect class="g" x="24" y="2359" width="85" height="27"/><text x="66.5" y="2365.3"><tspan class="n">conv2d_28_82</tspan><tspan x="66.5" dy="4.2">(1, 32, 1, 1) 128 B</tspan><tspan x="66.5" dy="4.2">in_channels=512, out_channels=32, kernel_size=(1, 1)</tspan><tspan x="66.5" dy="4.2">params: weight (32, 512, 1, 1) · bias (32,)</tspan><tspan x="66.5" dy="4.2">@decoder.blocks.1.SE_hi.1</tspan></text></g>
<g id="adaptiveavgpool2d_3_81"><rect class="w" x="44" y="2396" width="53" height="22"/><text x="70.5" y="2401.9"><tspan class="n">adaptiveavgpool2d_3_81</tspan><tspan x="70.5" dy="4.2">(1, 512, 1, 1) 2.0 KB</tspan><tspan x="70.5" dy="4.2">output_size=1</tspan><tspan x="70.5" dy="4.2">@decoder.blocks.1.SE_hi.0</tspan></text></g>
<g id="sigmoid_4_90"><rect class="w" x="134" y="2271" width="45" height="17"/><text x="156.5" y="2276.5"><tspan class="n">sigmoid_4_90</tspan><tspan x="156.5" dy="4.2">(1, 512, 1, 1) 2.0 KB</tspan><tspan x="156.5" dy="4.2">@decoder.blocks.1.SE_li.4</tspan></text></g>
<g id="conv2d_31_89"><rect class="g" x="124" y="2296" width="85" height="27"/><text x="166.5" y="2302.3"><tspan class="n">conv2d_31_89</tspan><tspan x="166.5" dy="4.2">(1, 512, 1, 1) 2.0 KB</tspan><tspan x="166.5" dy="4.2">in_channels=32, out_channels=512, kernel_size=(1, 1)</tspan><tspan x="166.5" dy="4.2">params: weight (512, 32, 1, 1) · bias (512,)</tspan><tspan x="166.5" dy="4.2">@decoder.blocks.1.SE_li.3</tspan></text></g>
<g id="relu_23_88"><rect class="w" x="144" y="2333" width="45" height="17"/><text x="166.5" y="2338.5"><tspan class="n">relu_23_88</tspan><tspan x="166.5" dy="4.2">(1, 32, 1, 1) 128 B</tspan><tspan x="166.5" dy="4.2">@decoder.blocks.1.SE_li.2</tspan></text></g>
<g id="conv2d_30_87"><rect class="g" x="124" y="2359" width="85" height="28"/><text x="166.5" y="2365.8"><tspan class="n">conv2d_30_87</tspan><tspan x="166.5" dy="4.2">(1, 32, 1, 1) 128 B</tspan><tspan x="166.5" dy="4.2">in_channels=512, out_channels=32, kernel_size=(1, 1)</tspan><tspan x="166.5" dy="4.2">params: weight (32, 512, 1, 1) · bias (32,)</tspan><tspan x="166.5" dy="4.2">@decoder.blocks.1.SE_li.1</tspan></text></g>
<g id="adaptiveavgpool2d_4_86"><rect class="w" x="154" y="2396" width="46" height="23"/><text x="177" y="2402.4"><tspan class="n">adaptiveavgpool2d_4_86</tspan><tspan x="177" dy="4.2">(1, 512, 1, 1) 2.0 KB</tspan><tspan x="177" dy="4.2">output_size=1</tspan><tspan x="177" dy="4.2">@decoder.blocks.1.SE_li.0</tspan></text></g>
<g id="interpolate_2_80"><ellipse class="e" cx="67" cy="2439" rx="36" ry="12"/><text x="67" y="2436"><tspan class="n">interpolate_2_80</tspan><tspan x="67" dy="4.2">(1, 512, 32, 32) 2.0 MB</tspan><tspan x="67" dy="4.2">scale_factor=2.0, mode=nearest</tspan></text></g>
<g id="relu_21_79"><rect class="w" x="44" y="2482" width="54" height="17"/><text x="71" y="2487.5"><tspan class="n">relu_21_79</tspan><tspan x="71" dy="4.2">(1, 512, 16, 16) 512.0 KB</tspan><tspan x="71" dy="4.2">@decoder.blocks.1.hl_conv.1.2</tspan></text></g>
<g id="batchnorm_6_78"><rect class="bn" x="43" y="2509" width="58" height="29"/><text x="72" y="2516.3"><tspan class="n">batchnorm_6_78</tspan><tspan x="72" dy="4.2">(1, 512, 16, 16) 512.0 KB</tspan><tspan x="72" dy="4.2">eps=1e-05, momentum=0.1</tspan><tspan x="72" dy="4.2">params: weight (512,) · bias (512,)</tspan><tspan x="72" dy="4.2">@decoder.blocks.1.hl_conv.1.1</tspan></text></g>
<g id="conv2d_27_77"><rect class="g" x="30" y="2547" width="85" height="27"/><text x="72.5" y="2553.3"><tspan class="n">conv2d_27_77</tspan><tspan x="72.5" dy="4.2">(1, 512, 16, 16) 512.0 KB</tspan><tspan x="72.5" dy="4.2">in_channels=256, out_channels=512, kernel_size=(1, 1)</tspan><tspan x="72.5" dy="4.2">params: weight (512, 256, 1, 1)</tspan><tspan x="72.5" dy="4.2">@decoder.blocks.1.hl_conv.1.0</tspan></text></g>
<g id="relu_20_76"><rect class="w" x="47" y="2596" width="51" height="17"/><text x="72.5" y="2601.5"><tspan class="n">relu_20_76</tspan><tspan x="72.5" dy="4.2">(1, 256, 16, 16) 256.0 KB</tspan><tspan x="72.5" dy="4.2">@decoder.blocks.1.hl_conv.0.2</tspan></text></g>
<g id="batchnorm_5_75"><rect class="bn" x="48" y="2623" width="54" height="29"/><text x="75" y="2630.3"><tspan class="n">batchnorm_5_75</tspan><tspan x="75" dy="4.2">(1, 256, 16, 16) 256.0 KB</tspan><tspan x="75" dy="4.2">eps=1e-05, momentum=0.1</tspan><tspan x="75" dy="4.2">params: weight (256,) · bias (256,)</tspan><tspan x="75" dy="4.2">@decoder.blocks.1.hl_conv.0.1</tspan></text></g>
<g id="conv2d_26_74"><rect class="g" x="27" y="2661" width="107" height="27"/><text x="80.5" y="2667.3"><tspan class="n">conv2d_26_74</tspan><tspan x="80.5" dy="4.2">(1, 256, 16, 16) 256.0 KB</tspan><tspan x="80.5" dy="4.2">in_channels=256, out_channels=256, kernel_size=(3, 3), padding=(1, 1)</tspan><tspan x="80.5" dy="4.2">params: weight (256, 256, 3, 3)</tspan><tspan x="80.5" dy="4.2">@decoder.blocks.1.hl_conv.0.0</tspan></text></g>

<g id="relu_19_73"><rect class="w" x="57" y="2736" width="45" height="17"/><text x="79.5" y="2741.5"><tspan class="n">relu_19_73</tspan><tspan x="79.5" dy="4.2">(1, 256, 16, 16) 256.0 KB</tspan><tspan x="79.5" dy="4.2">@decoder.blocks.0.conv2.2</tspan></text></g>
<g id="batchnorm_4_72"><rect class="bn" x="53" y="2763" width="54" height="29"/><text x="80" y="2770.3"><tspan class="n">batchnorm_4_72</tspan><tspan x="80" dy="4.2">(1, 256, 16, 16) 256.0 KB</tspan><tspan x="80" dy="4.2">eps=1e-05, momentum=0.1</tspan><tspan x="80" dy="4.2">params: weight (256,) · bias (256,)</tspan><tspan x="80" dy="4.2">@decoder.blocks.0.conv2.1</tspan></text></g>
<g id="conv2d_25_71"><rect class="g" x="27" y="2801" width="107" height="27"/><text x="80.5" y="2807.3"><tspan class="n">conv2d_25_71</tspan><tspan x="80.5" dy="4.2">(1, 256, 16, 16) 256.0 KB</tspan><tspan x="80.5" dy="4.2">in_channels=256, out_channels=256, kernel_size=(3, 3), padding=(1, 1)</tspan><tspan x="80.5" dy="4.2">params: weight (256, 256, 3, 3)</tspan><tspan x="80.5" dy="4.2">@decoder.blocks.0.conv2.0</tspan></text></g>
<g id="relu_18_70"><rect class="w" x="57" y="2850" width="45" height="17"/><text x="79.5" y="2855.5"><tspan class="n">relu_18_70</tspan><tspan x="79.5" dy="4.2">(1, 256, 16, 16) 256.0 KB</tspan><tspan x="79.5" dy="4.2">@decoder.blocks.0.conv1.2</tspan></text></g>
<g id="batchnorm_3_69"><rect class="bn" x="53" y="2877" width="54" height="29"/><text x="80" y="2884.3"><tspan class="n">batchnorm_3_69</tspan><tspan x="80" dy="4.2">(1, 256, 16, 16) 256.0 KB</tspan><tspan x="80" dy="4.2">eps=1e-05, momentum=0.1</tspan><tspan x="80" dy="4.2">params: weight (256,) · bias (256,)</tspan><tspan x="80" dy="4.2">@decoder.blocks.0.conv1.1</tspan></text></g>
<g id="conv2d_24_68"><rect class="g" x="26" y="2915" width="109" height="27"/><text x="80.5" y="2921.3"><tspan class="n">conv2d_24_68</tspan><tspan x="80.5" dy="4.2">(1, 256, 16, 16) 256.0 KB</tspan><tspan x="80.5" dy="4.2">in_channels=1024, out_channels=256, kernel_size=(3, 3), padding=(1, 1)</tspan><tspan x="80.5" dy="4.2">params: weight (256, 1024, 3, 3)</tspan><tspan x="80.5" dy="4.2">@decoder.blocks.0.conv1.0</tspan></text></g>
<g id="cat_1_67"><ellipse class="e" cx="80" cy="2963" rx="30" ry="12"/><text x="80" y="2960"><tspan class="n">cat_1_67</tspan><tspan x="80" dy="4.2">(1, 1024, 16, 16) 1.0 MB</tspan><tspan x="80" dy="4.2">dim=1</tspan></text></g>
<g id="mul_1_66"><ellipse class="e" cx="75" cy="2994" rx="29" ry="8"/><text x="75" y="2993.1"><tspan class="n">mul_1_66</tspan><tspan x="75" dy="4.2">(1, 512, 16, 16) 512.0 KB</tspan></text></g>
<g id="add_2_65"><ellipse class="e" cx="75" cy="3020" rx="25" ry="8"/><text x="75" y="3019.1"><tspan class="n">add_2_65</tspan><tspan x="75" dy="4.2">(1, 512, 1, 1) 2.0 KB</tspan></text></g>
<g id="sigmoid_1_59"><rect class="w" x="51" y="3045" width="45" height="17"/><text x="73.5" y="3050.5"><tspan class="n">sigmoid_1_59</tspan><tspan x="73.5" dy="4.2">(1, 512, 1, 1) 2.0 KB</tspan><tspan x="73.5" dy="4.2">@decoder.blocks.0.SE_hi.4</tspan></text></g>
<g id="conv2d_21_58"><rect class="g" x="24" y="3071" width="85" height="28"/><text x="66.5" y="3077.8"><tspan class="n">conv2d_21_58</tspan><tspan x="66.5" dy="4.2">(1, 512, 1, 1) 2.0 KB</tspan><tspan x="66.5" dy="4.2">in_channels=32, out_channels=512, kernel_size=(1, 1)</tspan><tspan x="66.5" dy="4.2">params: weight (512, 32, 1, 1) · bias (512,)</tspan><tspan x="66.5" dy="4.2">@decoder.blocks.0.SE_hi.3</tspan></text></g>
<g id="relu_16_57"><rect class="w" x="44" y="3107" width="48" height="17"/><text x="68" y="3112.5"><tspan class="n">relu_16_57</tspan><tspan x="68" dy="4.2">(1, 32, 1, 1) 128 B</tspan><tspan x="68" dy="4.2">@decoder.blocks.0.SE_hi.2</tspan></text></g>
<g id="conv2d_20_56"><rect class="g" x="24" y="3134" width="85" height="28"/><text x="66.5" y="3140.8"><tspan class="n">conv2d_20_56</tspan><tspan x="66.5" dy="4.2">(1, 32, 1, 1) 128 B</tspan><tspan x="66.5" dy="4.2">in_channels=512, out_channels=32, kernel_size=(1, 1)</tspan><tspan x="66.5" dy="4.2">params: weight (32, 512, 1, 1) · bias (32,)</tspan><tspan x="66.5" dy="4.2">@decoder.blocks.0.SE_hi.1</tspan></text></g>
<g id="adaptiveavgpool2d_1_55"><rect class="w" x="44" y="3171" width="48" height="22"/><text x="68" y="3176.9"><tspan class="n">adaptiveavgpool2d_1_55</tspan><tspan x="68" dy="4.2">(1, 512, 1, 1) 2.0 KB</tspan><tspan x="68" dy="4.2">output_size=1</tspan><tspan x="68" dy="4.2">@decoder.blocks.0.SE_hi.0</tspan></text></g>
<g id="sigmoid_2_64"><rect class="w" x="135" y="3045" width="45" height="17"/><text x="157.5" y="3050.5"><tspan class="n">sigmoid_2_64</tspan><tspan x="157.5" dy="4.2">(1, 512, 1, 1) 2.0 KB</tspan><tspan x="157.5" dy="4.2">@decoder.blocks.0.SE_li.4</tspan></text></g>
<g id="conv2d_23_63"><rect class="g" x="124" y="3071" width="85" height="28"/><text x="166.5" y="3077.8"><tspan class="n">conv2d_23_63</tspan><tspan x="166.5" dy="4.2">(1, 512, 1, 1) 2.0 KB</tspan><tspan x="166.5" dy="4.2">in_channels=32, out_channels=512, kernel_size=(1, 1)</tspan><tspan x="166.5" dy="4.2">params: weight (512, 32, 1, 1) · bias (512,)</tspan><tspan x="166.5" dy="4.2">@decoder.blocks.0.SE_li.3</tspan></text></g>
<g id="relu_17_62"><rect class="w" x="144" y="3107" width="46" height="17"/><text x="167" y="3112.5"><tspan class="n">relu_17_62</tspan><tspan x="167" dy="4.2">(1, 32, 1, 1) 128 B</tspan><tspan x="167" dy="4.2">@decoder.blocks.0.SE_li.2</tspan></text></g>
<g id="conv2d_22_61"><rect class="g" x="124" y="3134" width="85" height="28"/><text x="166.5" y="3140.8"><tspan class="n">conv2d_22_61</tspan><tspan x="166.5" dy="4.2">(1, 32, 1, 1) 128 B</tspan><tspan x="166.5" dy="4.2">in_channels=512, out_channels=32, kernel_size=(1, 1)</tspan><tspan x="166.5" dy="4.2">params: weight (32, 512, 1, 1) · bias (32,)</tspan><tspan x="166.5" dy="4.2">@decoder.blocks.0.SE_li.1</tspan></text></g>
<g id="adaptiveavgpool2d_2_60"><rect class="w" x="155" y="3171" width="45" height="22"/><text x="177.5" y="3176.9"><tspan class="n">adaptiveavgpool2d_2_60</tspan><tspan x="177.5" dy="4.2">(1, 512, 1, 1) 2.0 KB</tspan><tspan x="177.5" dy="4.2">output_size=1</tspan><tspan x="177.5" dy="4.2">@decoder.blocks.0.SE_li.0</tspan></text></g>
<g id="interpolate_1_54"><ellipse class="e" cx="67" cy="3213" rx="36" ry="12"/><text x="67" y="3210"><tspan class="n">interpolate_1_54</tspan><tspan x="67" dy="4.2">(1, 512, 16, 16) 512.0 KB</tspan><tspan x="67" dy="4.2">scale_factor=2.0, mode=nearest</tspan></text></g>
<g id="relu_15_53"><rect class="w" x="72" y="3257" width="51" height="17"/><text x="97.5" y="3262.5"><tspan class="n">relu_15_53</tspan><tspan x="97.5" dy="4.2">(1, 512, 8, 8) 128.0 KB</tspan><tspan x="97.5" dy="4.2">@decoder.blocks.0.hl_conv.1.2</tspan></text></g>
<g id="batchnorm_2_52"><rect class="bn" x="74" y="3284" width="58" height="29"/><text x="103" y="3291.3"><tspan class="n">batchnorm_2_52</tspan><tspan x="103" dy="4.2">(1, 512, 8, 8) 128.0 KB</tspan><tspan x="103" dy="4.2">eps=1e-05, momentum=0.1</tspan><tspan x="103" dy="4.2">params: weight (512,) · bias (512,)</tspan><tspan x="103" dy="4.2">@decoder.blocks.0.hl_conv.1.1</tspan></text></g>
<g id="conv2d_19_51"><rect class="g" x="67" y="3322" width="85" height="28"/><text x="109.5" y="3328.8"><tspan class="n">conv2d_19_51</tspan><tspan x="109.5" dy="4.2">(1, 512, 8, 8) 128.0 KB</tspan><tspan x="109.5" dy="4.2">in_channels=512, out_channels=512, kernel_size=(1, 1)</tspan><tspan x="109.5" dy="4.2">params: weight (512, 512, 1, 1)</tspan><tspan x="109.5" dy="4.2">@decoder.blocks.0.hl_conv.1.0</tspan></text></g>
<g id="relu_14_50"><rect class="w" x="86" y="3371" width="51" height="17"/><text x="111.5" y="3376.5"><tspan class="n">relu_14_50</tspan><tspan x="111.5" dy="4.2">(1, 512, 8, 8) 128.0 KB</tspan><tspan x="111.5" dy="4.2">@decoder.blocks.0.hl_conv.0.2</tspan></text></g>
<g id="batchnorm_1_49"><rect class="bn" x="88" y="3398" width="58" height="29"/><text x="117" y="3405.3"><tspan class="n">batchnorm_1_49</tspan><tspan x="117" dy="4.2">(1, 512, 8, 8) 128.0 KB</tspan><tspan x="117" dy="4.2">eps=1e-05, momentum=0.1</tspan><tspan x="117" dy="4.2">params: weight (512,) · bias (512,)</tspan><tspan x="117" dy="4.2">@decoder.blocks.0.hl_conv.0.1</tspan></text></g>
<g id="conv2d_18_48"><rect class="g" x="64" y="3436" width="110" height="28"/><text x="119" y="3442.8"><tspan class="n">conv2d_18_48</tspan><tspan x="119" dy="4.2">(1, 512, 8, 8) 128.0 KB</tspan><tspan x="119" dy="4.2">in_channels=512, out_channels=512, kernel_size=(3, 3), padding=(1, 1)</tspan><tspan x="119" dy="4.2">params: weight (512, 512, 3, 3)</tspan><tspan x="119" dy="4.2">@decoder.blocks.0.hl_conv.0.0</tspan></text></g>

<g id="conv2d_17_47"><rect class="g" x="78" y="3496" width="109" height="27"/><text x="132.5" y="3502.3"><tspan class="n">conv2d_17_47</tspan><tspan x="132.5" dy="4.2">(1, 512, 8, 8) 128.0 KB</tspan><tspan x="132.5" dy="4.2">in_channels=512, out_channels=512, kernel_size=(3, 3), padding=(1, 1)</tspan><tspan x="132.5" dy="4.2">params: weight (512, 512, 3, 3) · bias (512,)</tspan><tspan x="132.5" dy="4.2">@decoder.center.out_conv</tspan></text></g>
<g id="add_1_46"><ellipse class="e" cx="146" cy="3543" rx="28" ry="8.5"/><text x="146" y="3542.1"><tspan class="n">add_1_46</tspan><tspan x="146" dy="4.2">(1, 512, 8, 8) 128.0 KB</tspan></text></g>
<g id="reshape_1_45"><ellipse class="e" cx="145" cy="3568" rx="28" ry="9"/><text x="145" y="3567.1"><tspan class="n">reshape_1_45</tspan><tspan x="145" dy="4.2">(1, 512, 8, 8) 128.0 KB</tspan></text></g>
<g id="matmul_2_44"><ellipse class="e" cx="146" cy="3594" rx="27" ry="8"/><text x="146" y="3593.1"><tspan class="n">matmul_2_44</tspan><tspan x="146" dy="4.2">(1, 64, 512) 128.0 KB</tspan></text></g>
<g id="transpose_2_39"><ellipse class="e" cx="151" cy="3624" rx="30" ry="13"/><text x="151" y="3621"><tspan class="n">transpose_2_39</tspan><tspan x="151" dy="4.2">(1, 64, 512) 128.0 KB</tspan><tspan x="151" dy="4.2">dim0=1, dim1=2</tspan></text></g>
<g id="view_2_43"><ellipse class="e" cx="87" cy="3623" rx="25" ry="9"/><text x="87" y="3622.1"><tspan class="n">view_2_43</tspan><tspan x="87" dy="4.2">(1, 64, 64) 16.0 KB</tspan></text></g>
<g id="softmax_1_42"><rect class="w" x="60" y="3645" width="50" height="22"/><text x="85" y="3650.9"><tspan class="n">softmax_1_42</tspan><tspan x="85" dy="4.2">(1, 4096) 16.0 KB</tspan><tspan x="85" dy="4.2">dim=1</tspan><tspan x="85" dy="4.2">@decoder.center.map_softmax</tspan></text></g>
<g id="flatten_3_38"><ellipse class="e" cx="153" cy="3657" rx="27" ry="9"/><text x="153" y="3656.1"><tspan class="n">flatten_3_38</tspan><tspan x="153" dy="4.2">(1, 512, 64) 128.0 KB</tspan></text></g>
<g id="conv2d_16_36"><rect class="g" x="105" y="3677" width="110" height="27"/><text x="160" y="3683.3"><tspan class="n">conv2d_16_36</tspan><tspan x="160" dy="4.2">(1, 512, 8, 8) 128.0 KB</tspan><tspan x="160" dy="4.2">in_channels=512, out_channels=512, kernel_size=(3, 3), padding=(1, 1)</tspan><tspan x="160" dy="4.2">params: weight (512, 512, 3, 3) · bias (512,)</tspan><tspan x="160" dy="4.2">@decoder.center.bottom_conv</tspan></text></g>
<g id="view_1_41"><ellipse class="e" cx="77" cy="3690" rx="23" ry="8"/><text x="77" y="3689.1"><tspan class="n">view_1_41</tspan><tspan x="77" dy="4.2">(1, 4096) 16.0 KB</tspan></text></g>
<g id="matmul_1_40"><ellipse class="e" cx="101" cy="3722" rx="25" ry="8"/><text x="101" y="3721.1"><tspan class="n">matmul_1_40</tspan><tspan x="101" dy="4.2">(1, 64, 64) 16.0 KB</tspan></text></g>
<g id="transpose_1_37"><ellipse class="e" cx="101" cy="3752" rx="25" ry="12"/><text x="101" y="3749"><tspan class="n">transpose_1_37</tspan><tspan x="101" dy="4.2">(1, 64, 64) 16.0 KB</tspan><tspan x="101" dy="4.2">dim0=1, dim1=2</tspan></text></g>
<g id="flatten_1_34"><ellipse class="e" cx="160" cy="3753" rx="27" ry="8"/><text x="160" y="3752.1"><tspan class="n">flatten_1_34</tspan><tspan x="160" dy="4.2">(1, 64, 64) 16.0 KB</tspan></text></g>
<g id="flatten_2_35"><ellipse class="e" cx="101" cy="3787" rx="25" ry="8"/><text x="101" y="3786.1"><tspan class="n">flatten_2_35</tspan><tspan x="101" dy="4.2">(1, 64, 64) 16.0 KB</tspan></text></g>
<g id="conv2d_14_32"><rect class="g" x="130" y="3773" width="85" height="28"/><text x="172.5" y="3779.8"><tspan class="n">conv2d_14_32</tspan><tspan x="172.5" dy="4.2">(1, 64, 8, 8) 16.0 KB</tspan><tspan x="172.5" dy="4.2">in_channels=512, out_channels=64, kernel_size=(1, 1)</tspan><tspan x="172.5" dy="4.2">params: weight (64, 512, 1, 1) · bias (64,)</tspan><tspan x="172.5" dy="4.2">@decoder.center.top_conv</tspan></text></g>
<g id="conv2d_15_33"><rect class="g" x="95" y="3815" width="83" height="27"/><text x="136.5" y="3821.3"><tspan class="n">conv2d_15_33</tspan><tspan x="136.5" dy="4.2">(1, 64, 8, 8) 16.0 KB</tspan><tspan x="136.5" dy="4.2">in_channels=512, out_channels=64, kernel_size=(1, 1)</tspan><tspan x="136.5" dy="4.2">params: weight (64, 512, 1, 1) · bias (64,)</tspan><tspan x="136.5" dy="4.2">@decoder.center.center_conv</tspan></text></g>

<g id="maxpool2d_5_31"><rect class="w" x="232" y="3817" width="41" height="22"/><text x="252.5" y="3822.9"><tspan class="n">maxpool2d_5_31</tspan><tspan x="252.5" dy="4.2">(1, 512, 8, 8) 128.0 KB</tspan><tspan x="252.5" dy="4.2">kernel_size=2, stride=2</tspan><tspan x="252.5" dy="4.2">@encoder.features.30</tspan></text></g>
<g id="relu_13_30"><rect class="w" x="261" y="3854" width="45" height="17"/><text x="283.5" y="3859.5"><tspan class="n">relu_13_30</tspan><tspan x="283.5" dy="4.2">(1, 512, 16, 16) 512.0 KB</tspan><tspan x="283.5" dy="4.2">@encoder.features.29</tspan></text></g>
<g id="conv2d_13_29"><rect class="g" x="232" y="3881" width="110" height="27"/><text x="287" y="3887.3"><tspan class="n">conv2d_13_29</tspan><tspan x="287" dy="4.2">(1, 512, 16, 16) 512.0 KB</tspan><tspan x="287" dy="4.2">in_channels=512, out_channels=512, kernel_size=(3, 3), padding=(1, 1)</tspan><tspan x="287" dy="4.2">params: weight (512, 512, 3, 3) · bias (512,)</tspan><tspan x="287" dy="4.2">@encoder.features.28</tspan></text></g>
<g id="relu_12_28"><rect class="w" x="265" y="3917" width="44" height="17"/><text x="287" y="3922.5"><tspan class="n">relu_12_28</tspan><tspan x="287" dy="4.2">(1, 512, 16, 16) 512.0 KB</tspan><tspan x="287" dy="4.2">@encoder.features.27</tspan></text></g>
<g id="conv2d_12_27"><rect class="g" x="232" y="3944" width="110" height="27"/><text x="287" y="3950.3"><tspan class="n">conv2d_12_27</tspan><tspan x="287" dy="4.2">(1, 512, 16, 16) 512.0 KB</tspan><tspan x="287" dy="4.2">in_channels=512, out_channels=512, kernel_size=(3, 3), padding=(1, 1)</tspan><tspan x="287" dy="4.2">params: weight (512, 512, 3, 3) · bias (512,)</tspan><tspan x="287" dy="4.2">@encoder.features.26</tspan></text></g>
<g id="relu_11_26"><rect class="w" x="265" y="3980" width="44" height="17"/><text x="287" y="3985.5"><tspan class="n">relu_11_26</tspan><tspan x="287" dy="4.2">(1, 512, 16, 16) 512.0 KB</tspan><tspan x="287" dy="4.2">@encoder.features.25</tspan></text></g>
<g id="conv2d_11_25"><rect class="g" x="232" y="4006" width="110" height="27"/><text x="287" y="4012.3"><tspan class="n">conv2d_11_25</tspan><tspan x="287" dy="4.2">(1, 512, 16, 16) 512.0 KB</tspan><tspan x="287" dy="4.2">in_channels=512, out_channels=512, kernel_size=(3, 3), padding=(1, 1)</tspan><tspan x="287" dy="4.2">params: weight (512, 512, 3, 3) · bias (512,)</tspan><tspan x="287" dy="4.2">@encoder.features.24</tspan></text></g>
<g id="maxpool2d_4_24"><rect class="w" x="281" y="4043" width="44" height="22"/><text x="303" y="4048.9"><tspan class="n">maxpool2d_4_24</tspan><tspan x="303" dy="4.2">(1, 512, 16, 16) 512.0 KB</tspan><tspan x="303" dy="4.2">kernel_size=2, stride=2</tspan><tspan x="303" dy="4.2">@encoder.features.23</tspan></text></g>
<g id="relu_10_23"><rect class="w" x="292" y="4074" width="41" height="17"/><text x="312.5" y="4079.5"><tspan class="n">relu_10_23</tspan><tspan x="312.5" dy="4.2">(1, 512, 32, 32) 2.0 MB</tspan><tspan x="312.5" dy="4.2">@encoder.features.22</tspan></text></g>
<g id="conv2d_10_22"><rect class="g" x="232" y="4101" width="110" height="27"/><text x="287" y="4107.3"><tspan class="n">conv2d_10_22</tspan><tspan x="287" dy="4.2">(1, 512, 32, 32) 2.0 MB</tspan><tspan x="287" dy="4.2">in_channels=512, out_channels=512, kernel_size=(3, 3), padding=(1, 1)</tspan><tspan x="287" dy="4.2">params: weight (512, 512, 3, 3) · bias (512,)</tspan><tspan x="287" dy="4.2">@encoder.features.21</tspan></text></g>
<g id="relu_9_21"><rect class="w" x="266" y="4137" width="42" height="17"/><text x="287" y="4142.5"><tspan class="n">relu_9_21</tspan><tspan x="287" dy="4.2">(1, 512, 32, 32) 2.0 MB</tspan><tspan x="287" dy="4.2">@encoder.features.20</tspan></text></g>
<g id="conv2d_9_20"><rect class="g" x="232" y="4164" width="110" height="27"/><text x="287" y="4170.3"><tspan class="n">conv2d_9_20</tspan><tspan x="287" dy="4.2">(1, 512, 32, 32) 2.0 MB</tspan><tspan x="287" dy="4.2">in_channels=512, out_channels=512, kernel_size=(3, 3), padding=(1, 1)</tspan><tspan x="287" dy="4.2">params: weight (512, 512, 3, 3) · bias (512,)</tspan><tspan x="287" dy="4.2">@encoder.features.19</tspan></text></g>
<g id="relu_8_19"><rect class="w" x="266" y="4200" width="42" height="17"/><text x="287" y="4205.5"><tspan class="n">relu_8_19</tspan><tspan x="287" dy="4.2">(1, 512, 32, 32) 2.0 MB</tspan><tspan x="287" dy="4.2">@encoder.features.18</tspan></text></g>
<g id="conv2d_8_18"><rect class="g" x="232" y="4227" width="110" height="27"/><text x="287" y="4233.3"><tspan class="n">conv2d_8_18</tspan><tspan x="287" dy="4.2">(1, 512, 32, 32) 2.0 MB</tspan><tspan x="287" dy="4.2">in_channels=256, out_channels=512, kernel_size=(3, 3), padding=(1, 1)</tspan><tspan x="287" dy="4.2">params: weight (512, 256, 3, 3) · bias (512,)</tspan><tspan x="287" dy="4.2">@encoder.features.17</tspan></text></g>
<g id="maxpool2d_3_17"><rect class="w" x="275" y="4263" width="44" height="22"/><text x="297" y="4268.9"><tspan class="n">maxpool2d_3_17</tspan><tspan x="297" dy="4.2">(1, 256, 32, 32) 1.0 MB</tspan><tspan x="297" dy="4.2">kernel_size=2, stride=2</tspan><tspan x="297" dy="4.2">@encoder.features.16</tspan></text></g>
<g id="relu_7_16"><rect class="w" x="283" y="4294" width="42" height="17"/><text x="304" y="4299.5"><tspan class="n">relu_7_16</tspan><tspan x="304" dy="4.2">(1, 256, 64, 64) 4.0 MB</tspan><tspan x="304" dy="4.2">@encoder.features.15</tspan></text></g>
<g id="conv2d_7_15"><rect class="g" x="232" y="4320" width="110" height="27"/><text x="287" y="4326.3"><tspan class="n">conv2d_7_15</tspan><tspan x="287" dy="4.2">(1, 256, 64, 64) 4.0 MB</tspan><tspan x="287" dy="4.2">in_channels=256, out_channels=256, kernel_size=(3, 3), padding=(1, 1)</tspan><tspan x="287" dy="4.2">params: weight (256, 256, 3, 3) · bias (256,)</tspan><tspan x="287" dy="4.2">@encoder.features.14</tspan></text></g>
<g id="relu_6_14"><rect class="w" x="266" y="4356" width="42" height="17"/><text x="287" y="4361.5"><tspan class="n">relu_6_14</tspan><tspan x="287" dy="4.2">(1, 256, 64, 64) 4.0 MB</tspan><tspan x="287" dy="4.2">@encoder.features.13</tspan></text></g>
<g id="conv2d_6_13"><rect class="g" x="232" y="4382" width="110" height="27"/><text x="287" y="4388.3"><tspan class="n">conv2d_6_13</tspan><tspan x="287" dy="4.2">(1, 256, 64, 64) 4.0 MB</tspan><tspan x="287" dy="4.2">in_channels=256, out_channels=256, kernel_size=(3, 3), padding=(1, 1)</tspan><tspan x="287" dy="4.2">params: weight (256, 256, 3, 3) · bias (256,)</tspan><tspan x="287" dy="4.2">@encoder.features.12</tspan></text></g>
<g id="relu_5_12"><rect class="w" x="266" y="4418" width="42" height="17"/><text x="287" y="4423.5"><tspan class="n">relu_5_12</tspan><tspan x="287" dy="4.2">(1, 256, 64, 64) 4.0 MB</tspan><tspan x="287" dy="4.2">@encoder.features.11</tspan></text></g>
<g id="conv2d_5_11"><rect class="g" x="232" y="4444" width="110" height="27"/><text x="287" y="4450.3"><tspan class="n">conv2d_5_11</tspan><tspan x="287" dy="4.2">(1, 256, 64, 64) 4.0 MB</tspan><tspan x="287" dy="4.2">in_channels=128, out_channels=256, kernel_size=(3, 3), padding=(1, 1)</tspan><tspan x="287" dy="4.2">params: weight (256, 128, 3, 3) · bias (256,)</tspan><tspan x="287" dy="4.2">@encoder.features.10</tspan></text></g>
<g id="maxpool2d_2_10"><rect class="w" x="274" y="4480" width="44" height="22"/><text x="296" y="4485.9"><tspan class="n">maxpool2d_2_10</tspan><tspan x="296" dy="4.2">(1, 128, 64, 64) 2.0 MB</tspan><tspan x="296" dy="4.2">kernel_size=2, stride=2</tspan><tspan x="296" dy="4.2">@encoder.features.9</tspan></text></g>
<g id="relu_4_9"><rect class="w" x="289" y="4511" width="44" height="17"/><text x="311" y="4516.5"><tspan class="n">relu_4_9</tspan><tspan x="311" dy="4.2">(1, 128, 128, 128) 8.0 MB</tspan><tspan x="311" dy="4.2">@encoder.features.8</tspan></text></g>
<g id="conv2d_4_8"><rect class="g" x="232" y="4537" width="110" height="27"/><text x="287" y="4543.3"><tspan class="n">conv2d_4_8</tspan><tspan x="287" dy="4.2">(1, 128, 128, 128) 8.0 MB</tspan><tspan x="287" dy="4.2">in_channels=128, out_channels=128, kernel_size=(3, 3), padding=(1, 1)</tspan><tspan x="287" dy="4.2">params: weight (128, 128, 3, 3) · bias (128,)</tspan><tspan x="287" dy="4.2">@encoder.features.7</tspan></text></g>
<g id="relu_3_7"><rect class="w" x="265" y="4573" width="44" height="17"/><text x="287" y="4578.5"><tspan class="n">relu_3_7</tspan><tspan x="287" dy="4.2">(1, 128, 128, 128) 8.0 MB</tspan><tspan x="287" dy="4.2">@encoder.features.6</tspan></text></g>
<g id="conv2d_3_6"><rect class="g" x="233" y="4599" width="108" height="27"/><text x="287" y="4605.3"><tspan class="n">conv2d_3_6</tspan><tspan x="287" dy="4.2">(1, 128, 128, 128) 8.0 MB</tspan><tspan x="287" dy="4.2">in_channels=64, out_channels=128, kernel_size=(3, 3), padding=(1, 1)</tspan><tspan x="287" dy="4.2">params: weight (128, 64, 3, 3) · bias (128,)</tspan><tspan x="287" dy="4.2">@encoder.features.5</tspan></text></g>
<g id="maxpool2d_1_5"><rect class="w" x="265" y="4635" width="44" height="22"/><text x="287" y="4640.9"><tspan class="n">maxpool2d_1_5</tspan><tspan x="287" dy="4.2">(1, 64, 128, 128) 4.0 MB</tspan><tspan x="287" dy="4.2">kernel_size=2, stride=2</tspan><tspan x="287" dy="4.2">@encoder.features.4</tspan></text></g>
<g id="relu_2_4"><rect class="w" x="265" y="4666" width="44" height="17"/><text x="287" y="4671.5"><tspan class="n">relu_2_4</tspan><tspan x="287" dy="4.2">(1, 64, 256, 256) 16.0 MB</tspan><tspan x="287" dy="4.2">@encoder.features.3</tspan></text></g>
<g id="conv2d_2_3"><rect class="g" x="234" y="4692" width="106" height="27"/><text x="287" y="4698.3"><tspan class="n">conv2d_2_3</tspan><tspan x="287" dy="4.2">(1, 64, 256, 256) 16.0 MB</tspan><tspan x="287" dy="4.2">in_channels=64, out_channels=64, kernel_size=(3, 3), padding=(1, 1)</tspan><tspan x="287" dy="4.2">params: weight (64, 64, 3, 3) · bias (64,)</tspan><tspan x="287" dy="4.2">@encoder.features.2</tspan></text></g>
<g id="relu_1_2"><rect class="w" x="265" y="4728" width="44" height="17"/><text x="287" y="4733.5"><tspan class="n">relu_1_2</tspan><tspan x="287" dy="4.2">(1, 64, 256, 256) 16.0 MB</tspan><tspan x="287" dy="4.2">@encoder.features.1</tspan></text></g>
<g id="conv2d_1_1"><rect class="g" x="235" y="4754" width="104" height="27"/><text x="287" y="4760.3"><tspan class="n">conv2d_1_1</tspan><tspan x="287" dy="4.2">(1, 64, 256, 256) 16.0 MB</tspan><tspan x="287" dy="4.2">in_channels=3, out_channels=64, kernel_size=(3, 3), padding=(1, 1)</tspan><tspan x="287" dy="4.2">params: weight (64, 3, 3, 3) · bias (64,)</tspan><tspan x="287" dy="4.2">@encoder.features.0</tspan></text></g>
<g id="input_1"><ellipse class="in" cx="287" cy="4802" rx="31" ry="12"/><text x="287" y="4799"><tspan class="n">input_1</tspan><tspan x="287" dy="4.2">(1, 3, 256, 256) 768.0 KB</tspan><tspan x="287" dy="4.2">@input.x</tspan></text></g>
</svg>
